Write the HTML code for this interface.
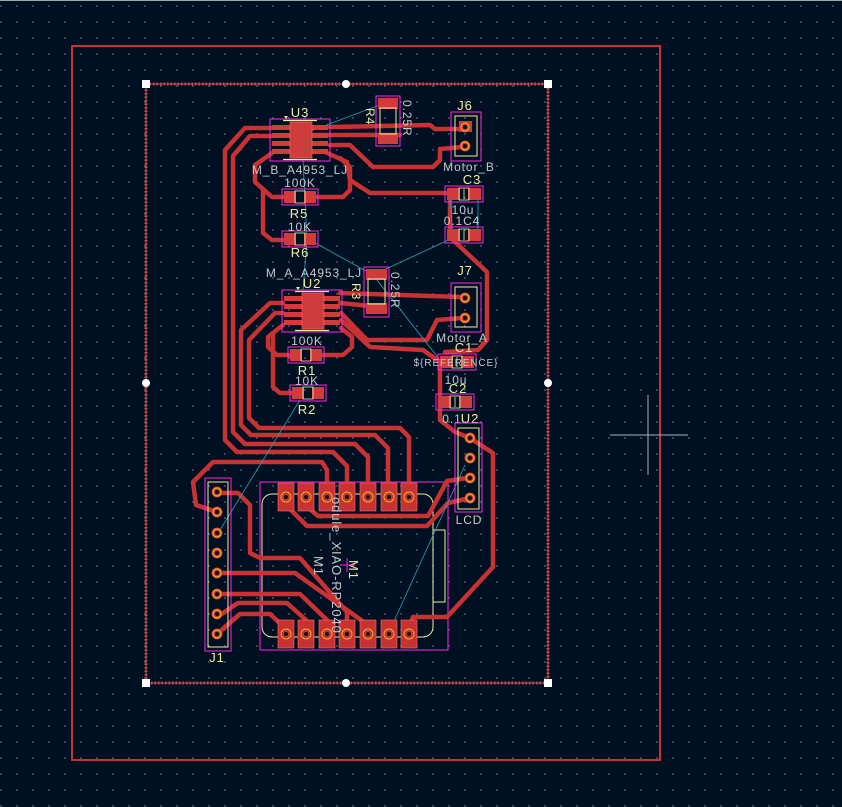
<!DOCTYPE html>
<html><head><meta charset="utf-8"><style>
html,body{margin:0;padding:0;background:#001023;}
svg{display:block;}
text{font-family:"Liberation Sans",sans-serif;letter-spacing:0.9px;}
</style></head><body>
<svg width="842" height="807" viewBox="0 0 842 807" xmlns="http://www.w3.org/2000/svg">
<defs>
<pattern id="g" x="0.3" y="5.3" width="16" height="16" patternUnits="userSpaceOnUse">
<rect x="0" y="0" width="1.3" height="1.3" fill="#7d8694"/></pattern>
<g id="soic">
<rect x="0" y="0" width="60" height="42" fill="none" stroke="#ff26e2" stroke-width="1"/>
<rect x="2" y="6" width="20" height="5" fill="#d03c3c"/><rect x="2" y="14" width="20" height="5" fill="#d03c3c"/>
<rect x="2" y="22" width="20" height="5" fill="#d03c3c"/><rect x="2" y="30" width="20" height="5" fill="#d03c3c"/>
<rect x="38" y="6" width="20" height="5" fill="#d03c3c"/><rect x="38" y="14" width="20" height="5" fill="#d03c3c"/>
<rect x="38" y="22" width="20" height="5" fill="#d03c3c"/><rect x="38" y="30" width="20" height="5" fill="#d03c3c"/>
<rect x="20" y="3" width="22" height="36" fill="#d03c3c" stroke="#ff6a6a" stroke-width="0.6"/>
<line x1="13" y1="1.5" x2="47" y2="1.5" stroke="#f2eda1" stroke-width="1.2"/>
<line x1="13" y1="40.5" x2="47" y2="40.5" stroke="#f2eda1" stroke-width="1.2"/>
<path d="M14 -3 L18 -3 L16 0 Z" fill="#f2eda1"/>
</g>
<g id="res">
<rect x="0" y="0" width="36" height="16" fill="none" stroke="#ff26e2" stroke-width="1"/>
<rect x="2" y="2" width="12" height="12" fill="#d03c3c"/>
<rect x="22" y="2" width="12" height="12" fill="#d03c3c"/>
<rect x="13" y="2" width="10" height="12" fill="none" stroke="#f2eda1" stroke-width="0.8"/>
</g>
<g id="capx">
<rect x="0" y="0" width="38" height="16" fill="none" stroke="#ff26e2" stroke-width="1"/>
<rect x="2" y="2" width="13" height="12" fill="#d03c3c"/>
<rect x="23" y="2" width="13" height="12" fill="#d03c3c"/>
<rect x="14" y="2" width="10" height="12" fill="none" stroke="#f2eda1" stroke-width="0.8"/>
<line x1="19" y1="3" x2="19" y2="13" stroke="#f2eda1" stroke-width="0.8"/>
</g>
<g id="pin">
<circle r="5.5" fill="#c83232"/><circle r="4" fill="none" stroke="#e6b422" stroke-width="1.2"/><circle r="2" fill="#0b1020"/>
</g>
<g id="smdpad">
<rect x="-8" y="-14" width="16" height="28" fill="#c83232" stroke="#ff6a6a" stroke-width="0.6"/>
<circle r="5" fill="#c83232" stroke="#e6b422" stroke-width="1"/><circle r="2" fill="#0b1020"/>
</g>
</defs>
<rect width="842" height="807" fill="#001023"/>
<rect width="842" height="807" fill="url(#g)"/>
<line x1="0" y1="0.5" x2="842" y2="0.5" stroke="#9aa" stroke-width="1"/>

<rect x="72" y="46" width="588" height="714" fill="none" stroke="#c83232" stroke-width="2"/>
<rect x="146" y="84" width="402" height="599" fill="none" stroke="#c84848" stroke-width="3" stroke-dasharray="1.5 2"/>
<rect x="146" y="84" width="402" height="599" fill="none" stroke="#d05050" stroke-width="1"/>

<line x1="610" y1="435" x2="688" y2="435" stroke="#aab0b8" stroke-width="1"/>
<line x1="648" y1="395" x2="648" y2="475" stroke="#aab0b8" stroke-width="1"/>

<rect x="260" y="482" width="188" height="168" fill="none" stroke="#ff26e2" stroke-width="1"/>
<rect x="262" y="494" width="171" height="143" rx="10" fill="none" stroke="#f2eda1" stroke-width="1"/>
<rect x="433" y="530" width="12" height="72" fill="none" stroke="#f2eda1" stroke-width="1"/>

<g fill="none" stroke="#c83232" stroke-width="4.5" stroke-linejoin="round" stroke-linecap="round">
<polyline points="272,128 245,128 225,150 225,440 237,452 333,452 347,466 347,495"/>
<polyline points="272,136 250,136 233,156 233,432 245,444 355,444 368,457 368,495"/>
<polyline points="283,303 270,303 241,330 241,425 251,435 375,435 388,448 388,495"/>
<polyline points="283,313 275,313 249,340 249,418 259,428 400,428 409,437 409,495"/>
<polyline points="217,512 196,505 193,482 213,462 322,462 327,470 327,495"/>
<polyline points="217,493 238,493 250,505 250,553 260,558 300,558 347,612 347,628"/>
<polyline points="217,573 295,573 368,625 368,628"/>
<polyline points="217,594 300,594 327,620 327,628"/>
<polyline points="217,617 238,603 287,603 306,620 306,628"/>
<polyline points="217,634 240,614 270,614 285,628"/>
<polyline points="286,505 307,526 427,526 448,503 470,498"/>
<polyline points="305,505 318,516 428,516 447,481 467,478"/>
<polyline points="470,438 493,453 493,567 447,617 413,617 409,628"/>
<polyline points="330,127 430,125 435,129 462,129"/>
<polyline points="313,135 400,135"/>
<polyline points="330,145 350,145 373,167 433,167 440,160 440,149 462,147"/>
<polyline points="325,152 347,162 350,180 370,193 450,193"/>
<polyline points="272,153 255,165 255,182 272,197 283,197"/>
<polyline points="317,197 343,197 350,190 350,167 340,158"/>
<polyline points="263,190 263,233 272,240 283,240"/>
<polyline points="340,293 462,297"/>
<polyline points="340,303 370,306"/>
<polyline points="341,313 367,340 427,340 437,320 462,318"/>
<polyline points="341,320 370,347 423,350 440,362"/>
<polyline points="283,325 268,337 268,347 277,355 290,355"/>
<polyline points="323,355 343,355 352,347 352,337 341,328"/>
<polyline points="273,333 273,387 280,393 293,393"/>
<polyline points="453,240 487,272 487,340 478,350 445,352"/>
<polyline points="450,193 450,236"/>
<polyline points="440,362 440,402"/>
<polyline points="440,402 440,420 455,432 470,438"/>
</g>

<g stroke="#2aa6b8" stroke-width="0.8" fill="none">
<line x1="300" y1="135" x2="385" y2="103"/>
<polyline points="303,160 307,240 303,290"/>
<polyline points="310,240 373,275 457,236"/>
<line x1="373" y1="275" x2="440" y2="360"/>
<line x1="300" y1="400" x2="220" y2="530"/>
<line x1="465" y1="465" x2="390" y2="630"/>
<line x1="450" y1="195" x2="453" y2="240"/>
<line x1="478" y1="195" x2="478" y2="240"/>
</g>

<use href="#soic" x="270" y="119"/>
<use href="#soic" x="282" y="290"/>
<text x="300" y="117" font-size="13" fill="#f2eda1" text-anchor="middle">U3</text>
<text x="300" y="174" font-size="12" fill="#c8c8c8" text-anchor="middle">M_B_A4953_LJ</text>
<text x="312" y="288" font-size="13" fill="#f2eda1" text-anchor="middle">U2</text>
<text x="314" y="277" font-size="12" fill="#c8c8c8" text-anchor="middle">M_A_A4953_LJ</text>

<g>
<rect x="376" y="96" width="24" height="50" fill="none" stroke="#ff26e2"/>
<rect x="378" y="98" width="20" height="11" fill="#d03c3c"/><rect x="378" y="133" width="20" height="11" fill="#d03c3c"/>
<rect x="380" y="108" width="16" height="26" fill="none" stroke="#f2eda1"/>
<text transform="translate(403,100) rotate(90)" font-size="12" fill="#c8c8c8">0.25R</text>
<text transform="translate(366,108) rotate(90)" font-size="12" fill="#f2eda1">R4</text>
<rect x="364" y="267" width="25" height="50" fill="none" stroke="#ff26e2"/>
<rect x="366" y="269" width="21" height="11" fill="#d03c3c"/><rect x="366" y="303" width="21" height="11" fill="#d03c3c"/>
<rect x="368" y="279" width="17" height="25" fill="none" stroke="#f2eda1"/>
<text transform="translate(391,272) rotate(90)" font-size="12" fill="#c8c8c8">0.25R</text>
<text transform="translate(352,283) rotate(90)" font-size="12" fill="#f2eda1">R3</text>
</g>

<use href="#res" x="282" y="189"/>
<use href="#res" x="282" y="231"/>
<use href="#res" x="288" y="347"/>
<use href="#res" x="290" y="385"/>
<text x="300" y="187" font-size="12" fill="#c8c8c8" text-anchor="middle">100K</text>
<text x="299" y="218" font-size="13" fill="#f2eda1" text-anchor="middle">R5</text>
<text x="300" y="231" font-size="12" fill="#c8c8c8" text-anchor="middle">10K</text>
<text x="300" y="257" font-size="13" fill="#f2eda1" text-anchor="middle">R6</text>
<text x="307" y="345" font-size="12" fill="#c8c8c8" text-anchor="middle">100K</text>
<text x="307" y="375" font-size="13" fill="#f2eda1" text-anchor="middle">R1</text>
<text x="307" y="385" font-size="12" fill="#c8c8c8" text-anchor="middle">10K</text>
<text x="307" y="414" font-size="13" fill="#f2eda1" text-anchor="middle">R2</text>

<use href="#capx" x="445" y="186"/>
<use href="#capx" x="445" y="227"/>
<use href="#capx" x="438" y="354"/>
<use href="#capx" x="436" y="394"/>
<text x="472" y="184" font-size="13" fill="#f2eda1" text-anchor="middle">C3</text>
<text x="463" y="214" font-size="12" fill="#c8c8c8" text-anchor="middle">10u</text>
<text x="462" y="225" font-size="12" fill="#c8c8c8" text-anchor="middle">0.1C4</text>
<text x="464" y="352" font-size="13" fill="#f2eda1" text-anchor="middle">C1</text>
<text x="456" y="366" font-size="10" fill="#c8c8c8" text-anchor="middle">${REFERENCE}</text>
<text x="456" y="384" font-size="12" fill="#c8c8c8" text-anchor="middle">10u</text>
<text x="458" y="393" font-size="13" fill="#f2eda1" text-anchor="middle">C2</text>
<text x="452" y="423" font-size="12" fill="#c8c8c8" text-anchor="middle">0.1</text>
<text x="470" y="423" font-size="13" fill="#f2eda1" text-anchor="middle">U2</text>

<rect x="451" y="112" width="30" height="49" fill="none" stroke="#ff26e2"/>
<rect x="455" y="116" width="22" height="40" fill="none" stroke="#f2eda1"/>
<rect x="459" y="121" width="13" height="11" fill="#d03c3c"/>
<use href="#pin" x="465" y="127"/><use href="#pin" x="465" y="146"/>
<text x="465" y="110" font-size="13" fill="#f2eda1" text-anchor="middle">J6</text>
<text x="469" y="171" font-size="12" fill="#c8c8c8" text-anchor="middle">Motor_B</text>
<rect x="451" y="283" width="30" height="49" fill="none" stroke="#ff26e2"/>
<rect x="455" y="287" width="22" height="40" fill="none" stroke="#f2eda1"/>
<use href="#pin" x="465" y="298"/><use href="#pin" x="465" y="318"/>
<text x="465" y="275" font-size="13" fill="#f2eda1" text-anchor="middle">J7</text>
<text x="462" y="342" font-size="12" fill="#c8c8c8" text-anchor="middle">Motor_A</text>

<rect x="455" y="423" width="27" height="89" fill="none" stroke="#ff26e2"/>
<rect x="458" y="428" width="21" height="81" fill="none" stroke="#f2eda1"/>
<use href="#pin" x="470" y="438"/><use href="#pin" x="470" y="458"/>
<use href="#pin" x="470" y="478"/><use href="#pin" x="470" y="498"/>
<text x="469" y="524" font-size="12" fill="#c8c8c8" text-anchor="middle">LCD</text>

<rect x="205" y="478" width="26" height="173" fill="none" stroke="#ff26e2"/>
<rect x="208" y="482" width="20" height="165" fill="none" stroke="#f2eda1"/>
<use href="#pin" x="217" y="492"/><use href="#pin" x="217" y="512"/>
<use href="#pin" x="217" y="533"/><use href="#pin" x="217" y="553"/>
<use href="#pin" x="217" y="573"/><use href="#pin" x="217" y="594"/>
<use href="#pin" x="217" y="614"/><use href="#pin" x="217" y="634"/>
<text x="217" y="662" font-size="13" fill="#f2eda1" text-anchor="middle">J1</text>

<use href="#smdpad" x="286" y="497"/><use href="#smdpad" x="306" y="497"/>
<use href="#smdpad" x="327" y="497"/><use href="#smdpad" x="347" y="497"/>
<use href="#smdpad" x="368" y="497"/><use href="#smdpad" x="389" y="497"/>
<use href="#smdpad" x="409" y="497"/>
<use href="#smdpad" x="286" y="634"/><use href="#smdpad" x="306" y="634"/>
<use href="#smdpad" x="327" y="634"/><use href="#smdpad" x="347" y="634"/>
<use href="#smdpad" x="368" y="634"/><use href="#smdpad" x="389" y="634"/>
<use href="#smdpad" x="409" y="634"/>
<text transform="translate(332,497) rotate(90)" font-size="13" fill="#c8c8c8">odule_XIAO-RP2040</text>
<text transform="translate(314,556) rotate(90)" font-size="13" fill="#c8c8c8">M1</text>
<text transform="translate(349,560) rotate(90)" font-size="13" fill="#f2eda1">M1</text>
<line x1="340" y1="565" x2="355" y2="565" stroke="#ff26e2"/><line x1="347" y1="558" x2="347" y2="572" stroke="#ff26e2"/>

<g fill="#fff">
<rect x="142" y="80" width="8" height="8"/><rect x="544" y="80" width="8" height="8"/>
<rect x="142" y="679" width="8" height="8"/><rect x="544" y="679" width="8" height="8"/>
<circle cx="346" cy="84" r="4"/><circle cx="146" cy="383" r="4"/>
<circle cx="548" cy="383" r="4"/><circle cx="346" cy="683" r="4"/>
</g>
</svg>
</body></html>
